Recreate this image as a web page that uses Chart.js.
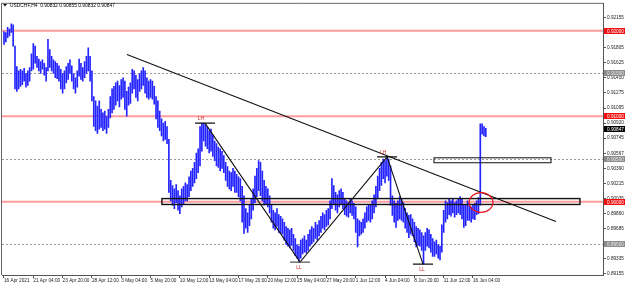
<!DOCTYPE html>
<html>
<head>
<meta charset="utf-8">
<script src="https://cdn.jsdelivr.net/npm/chart.js@4/dist/chart.umd.min.js"></script>
<style>
  html, body { margin: 0; padding: 0; background: #fff; }
</style>
</head>
<body>
<canvas id="chart" width="625" height="285"></canvas>
<script>
// USDCHF H4, one value pair per bar (16 Apr 2021 12:00 .. 17 Jun 2021 08:00)
const symbolTitle = "USDCHF,H4  0.90832 0.90855 0.90832 0.90847"

const timeLabels = ["16 Apr 2021", "21 Apr 04:00", "23 Apr 20:00", "28 Apr 12:00", "3 May 04:00",
  "5 May 20:00", "10 May 12:00", "13 May 04:00", "17 May 20:00", "20 May 12:00", "25 May 04:00",
  "27 May 20:00", "1 Jun 12:00", "4 Jun 04:00", "8 Jun 20:00", "11 Jun 12:00", "16 Jun 04:00"]
const barsPerLabel = 16

const highs = [
  0.9199, 0.9198, 0.9204, 0.9202, 0.9208, 0.9207, 0.9182, 0.9158, 0.9153, 0.9155,
  0.9153, 0.9156, 0.9150, 0.9153, 0.9157, 0.9173, 0.9185, 0.9182, 0.9170, 0.9167,
  0.9164, 0.9166, 0.9162, 0.9157, 0.9190, 0.9178, 0.9170, 0.9166, 0.9164, 0.9162,
  0.9159, 0.9155, 0.9150, 0.9153, 0.9158, 0.9162, 0.9166, 0.9159, 0.9150, 0.9145,
  0.9153, 0.9167, 0.9162, 0.9157, 0.9164, 0.9170, 0.9180, 0.9170, 0.9153, 0.9123,
  0.9118, 0.9112, 0.9118, 0.9108, 0.9104, 0.9106, 0.9100, 0.9108, 0.9123, 0.9132,
  0.9135, 0.9139, 0.9141, 0.9136, 0.9143, 0.9145, 0.9141, 0.9129, 0.9134, 0.9139,
  0.9155, 0.9153, 0.9148, 0.9143, 0.9150, 0.9153, 0.9157, 0.9153, 0.9145, 0.9141,
  0.9143, 0.9141, 0.9135, 0.9123, 0.9118, 0.9106, 0.9097, 0.9092, 0.9094, 0.9088,
  0.9073, 0.9025, 0.9019, 0.9015, 0.9020, 0.9013, 0.9007, 0.9015, 0.9018, 0.9022,
  0.9020, 0.9029, 0.9036, 0.9039, 0.9046, 0.9057, 0.9062, 0.9088, 0.9092, 0.9092,
  0.9090, 0.9087, 0.9083, 0.9085, 0.9078, 0.9071, 0.9068, 0.9064, 0.9062, 0.9059,
  0.9054, 0.9046, 0.9041, 0.9036, 0.9034, 0.9039, 0.9036, 0.9032, 0.9029, 0.9027,
  0.9018, 0.9007, 0.8992, 0.8987, 0.8996, 0.9004, 0.9015, 0.9030, 0.9039, 0.9048,
  0.9046, 0.9036, 0.9025, 0.9018, 0.9015, 0.9007, 0.8996, 0.8990, 0.8987, 0.8992,
  0.8985, 0.8983, 0.8980, 0.8976, 0.8971, 0.8969, 0.8967, 0.8969, 0.8962, 0.8957,
  0.8950, 0.8948, 0.8955, 0.8957, 0.8960, 0.8955, 0.8962, 0.8967, 0.8971, 0.8969,
  0.8976, 0.8973, 0.8978, 0.8983, 0.8987, 0.8985, 0.8990, 0.8992, 0.9001, 0.9027,
  0.9019, 0.9011, 0.9008, 0.9013, 0.9015, 0.9011, 0.9004, 0.9001, 0.8999, 0.9004,
  0.9001, 0.8998, 0.8994, 0.8980, 0.8978, 0.8976, 0.8980, 0.8987, 0.8994, 0.8997,
  0.8996, 0.9001, 0.9008, 0.9018, 0.9030, 0.9039, 0.9046, 0.9050, 0.9048, 0.9053,
  0.9050, 0.9042, 0.9007, 0.9001, 0.8998, 0.9001, 0.9006, 0.9004, 0.8999, 0.8992,
  0.8987, 0.8984, 0.8985, 0.8980, 0.8976, 0.8971, 0.8969, 0.8967, 0.8964, 0.8960,
  0.8964, 0.8969, 0.8967, 0.8962, 0.8957, 0.8953, 0.8955, 0.8950, 0.8948, 0.8973,
  0.8990, 0.9001, 0.8999, 0.9004, 0.9001, 0.9004, 0.8999, 0.9001, 0.9004, 0.9006,
  0.9004, 0.8996, 0.8997, 0.9001, 0.8998, 0.8994, 0.8997, 0.8998, 0.9001, 0.9005,
  0.9091, 0.9091, 0.9088, 0.9086
]

const lows = [
  0.9184, 0.9187, 0.9192, 0.9194, 0.9198, 0.9182, 0.9132, 0.9129, 0.9132, 0.9135,
  0.9137, 0.9141, 0.9134, 0.9136, 0.9141, 0.9153, 0.9155, 0.9162, 0.9157, 0.9153,
  0.9150, 0.9155, 0.9148, 0.9141, 0.9153, 0.9157, 0.9153, 0.9150, 0.9145, 0.9144,
  0.9141, 0.9132, 0.9127, 0.9132, 0.9139, 0.9143, 0.9150, 0.9141, 0.9132, 0.9127,
  0.9134, 0.9147, 0.9143, 0.9141, 0.9145, 0.9150, 0.9153, 0.9141, 0.9118, 0.9088,
  0.9083, 0.9080, 0.9085, 0.9087, 0.9083, 0.9085, 0.9080, 0.9087, 0.9098, 0.9104,
  0.9108, 0.9113, 0.9118, 0.9111, 0.9120, 0.9122, 0.9108, 0.9100, 0.9113, 0.9115,
  0.9127, 0.9132, 0.9122, 0.9118, 0.9129, 0.9132, 0.9136, 0.9127, 0.9122, 0.9120,
  0.9122, 0.9120, 0.9114, 0.9097, 0.9087, 0.9083, 0.9077, 0.9071, 0.9073, 0.9068,
  0.9011, 0.9001, 0.8996, 0.8992, 0.8999, 0.8990, 0.8986, 0.8994, 0.8997, 0.9001,
  0.9001, 0.9006, 0.9013, 0.9018, 0.9022, 0.9027, 0.9034, 0.9042, 0.9059, 0.9071,
  0.9065, 0.9062, 0.9057, 0.9059, 0.9053, 0.9048, 0.9042, 0.9040, 0.9036, 0.9039,
  0.9034, 0.9025, 0.9018, 0.9015, 0.9013, 0.9018, 0.9011, 0.9011, 0.9006, 0.9001,
  0.8976, 0.8963, 0.8969, 0.8964, 0.8972, 0.8980, 0.8990, 0.8999, 0.9006, 0.9013,
  0.9007, 0.9001, 0.8996, 0.8997, 0.8994, 0.8987, 0.8976, 0.8969, 0.8967, 0.8971,
  0.8964, 0.8963, 0.8962, 0.8955, 0.8950, 0.8948, 0.8946, 0.8949, 0.8943, 0.8937,
  0.8934, 0.8929, 0.8934, 0.8939, 0.8941, 0.8940, 0.8943, 0.8948, 0.8951, 0.8953,
  0.8957, 0.8955, 0.8960, 0.8964, 0.8969, 0.8967, 0.8971, 0.8973, 0.8980, 0.8992,
  0.8997, 0.8990, 0.8987, 0.8994, 0.8997, 0.8992, 0.8985, 0.8983, 0.8982, 0.8987,
  0.8984, 0.8980, 0.8964, 0.8947, 0.8960, 0.8962, 0.8964, 0.8969, 0.8976, 0.8978,
  0.8976, 0.8980, 0.8987, 0.8994, 0.9004, 0.9013, 0.9019, 0.9027, 0.9022, 0.9030,
  0.9025, 0.8996, 0.8984, 0.8976, 0.8970, 0.8978, 0.8980, 0.8978, 0.8976, 0.8969,
  0.8964, 0.8958, 0.8962, 0.8960, 0.8953, 0.8947, 0.8949, 0.8948, 0.8943, 0.8927,
  0.8943, 0.8948, 0.8946, 0.8941, 0.8936, 0.8936, 0.8939, 0.8934, 0.8932, 0.8941,
  0.8964, 0.8976, 0.8980, 0.8985, 0.8983, 0.8987, 0.8982, 0.8985, 0.8987, 0.8985,
  0.8980, 0.8970, 0.8972, 0.8978, 0.8978, 0.8976, 0.8980, 0.8979, 0.8985, 0.8986,
  0.8996, 0.9079, 0.9077, 0.9076
]

const priceTicks = [0.92155, 0.91980, 0.91805, 0.91625, 0.91450, 0.91275, 0.91095, 0.90920, 0.90745,
  0.90567, 0.90390, 0.90215, 0.90035, 0.89860, 0.89685, 0.89510, 0.89335, 0.89155]

// drawn objects, in bar index / price
const redLevels = [0.92000, 0.91000, 0.90000]
const dottedLevels = [0.91500, 0.90500, 0.89500]
const lastPrice = 0.90847
const trendLine = [[67.1, 0.91722], [301.3, 0.89770]]
const swingPoints = [[109.7, 0.90920], [161.6, 0.89294], [209.1, 0.90525], [228.7, 0.89270]]
const swingNames = ["LH", "LL", "LH", "LL"]
const zones = [
  { from: 86.2, to: 314.4, top: 0.90037, bottom: 0.89968 },
  { from: 234.7, to: 298.6, top: 0.90514, bottom: 0.90456 }
]
const circle = { at: 260.4, price: 0.89991, halfBars: 6.5, halfPrice: 0.00116 }

const FONT = "Liberation Sans, Arial, sans-serif"

const overlay = {
  id: "overlay",
  beforeDatasetsDraw(chart) {
    const { ctx, chartArea: a, scales: { y } } = chart
    ctx.save()
    ctx.setLineDash([2, 2])
    ctx.strokeStyle = "#9a9a9a"
    ctx.lineWidth = 1
    dottedLevels.forEach(p => {
      const py = Math.round(y.getPixelForValue(p)) + 0.5
      ctx.beginPath(); ctx.moveTo(a.left, py); ctx.lineTo(a.right, py); ctx.stroke()
    })
    ctx.setLineDash([])
    ctx.strokeStyle = "rgba(255, 90, 90, 0.6)"
    ctx.lineWidth = 2
    redLevels.forEach(p => {
      const py = y.getPixelForValue(p)
      ctx.beginPath(); ctx.moveTo(a.left, py); ctx.lineTo(a.right, py); ctx.stroke()
    })
    ctx.restore()
  },
  afterDatasetsDraw(chart) {
    const { ctx, chartArea: a, scales: { x, y } } = chart
    ctx.save()
    ctx.beginPath(); ctx.rect(a.left, a.top, a.right - a.left, a.bottom - a.top); ctx.clip()

    // zones
    ctx.strokeStyle = "#111"
    zones.forEach((z, k) => {
      ctx.lineWidth = k === 0 ? 1.4 : 1
      const x0 = x.getPixelForValue(z.from), x1 = x.getPixelForValue(z.to)
      const y0 = y.getPixelForValue(z.top), y1 = y.getPixelForValue(z.bottom)
      ctx.strokeRect(x0, y0, x1 - x0, y1 - y0)
    })

    // long trend line
    ctx.lineWidth = 1.1
    ctx.beginPath()
    ctx.moveTo(x.getPixelForValue(trendLine[0][0]), y.getPixelForValue(trendLine[0][1]))
    ctx.lineTo(x.getPixelForValue(trendLine[1][0]), y.getPixelForValue(trendLine[1][1]))
    ctx.stroke()

    // zigzag through swings
    ctx.beginPath()
    swingPoints.forEach(([i, p], k) => {
      const px = x.getPixelForValue(i), py = y.getPixelForValue(p)
      if (k === 0) ctx.moveTo(px, py); else ctx.lineTo(px, py)
    })
    ctx.stroke()

    // swing markers and names
    ctx.font = "5px " + FONT
    ctx.textAlign = "center"
    swingPoints.forEach(([i, p], k) => {
      const px = x.getPixelForValue(i), py = y.getPixelForValue(p)
      ctx.strokeStyle = k === 1 ? "#555" : "#111"
      ctx.lineWidth = 1.2
      ctx.beginPath(); ctx.moveTo(px - 10, py); ctx.lineTo(px + 10, py); ctx.stroke()
      ctx.fillStyle = "#e0202a"
      if (swingNames[k] === "LH") {
        ctx.textBaseline = "bottom"
        ctx.fillText(swingNames[k], px - 4, py - 1.5)
      } else {
        ctx.textBaseline = "top"
        ctx.fillText(swingNames[k], px - 1, py + 3)
      }
    })

    // circle round the breakout
    ctx.strokeStyle = "#e8141e"
    ctx.lineWidth = 1.2
    const cx = x.getPixelForValue(circle.at), cy = y.getPixelForValue(circle.price)
    const rx = x.getPixelForValue(circle.at + circle.halfBars) - cx
    const ry = cy - y.getPixelForValue(circle.price + circle.halfPrice)
    ctx.beginPath(); ctx.ellipse(cx, cy, rx, ry, 0, 0, Math.PI * 2); ctx.stroke()
    ctx.restore()
  },
  afterDraw(chart) {
    const { ctx, chartArea: a, scales: { y } } = chart
    ctx.save()
    // frame top and left
    ctx.strokeStyle = "#666"
    ctx.lineWidth = 1
    ctx.beginPath()
    ctx.moveTo(a.left - 0.5, a.bottom); ctx.lineTo(a.left - 0.5, a.top - 0.5); ctx.lineTo(a.right, a.top - 0.5)
    ctx.stroke()

    // price boxes on the axis
    ctx.font = "4.7px " + FONT
    ctx.textBaseline = "middle"
    ctx.textAlign = "left"
    const box = (p, bg, fg) => {
      const py = Math.round(y.getPixelForValue(p))
      ctx.fillStyle = bg
      ctx.fillRect(a.right + 1, py - 3, 21, 6)
      ctx.fillStyle = fg
      ctx.fillText(p.toFixed(5), a.right + 4, py + 0.3)
    }
    dottedLevels.forEach(p => box(p, "#8c8c8c", "#e8e8e8"))
    redLevels.forEach(p => box(p, "#f01010", "#fff"))
    box(lastPrice, "#000", "#fff")

    // title
    ctx.fillStyle = "#000"
    ctx.beginPath(); ctx.moveTo(3, 4); ctx.lineTo(7, 4); ctx.lineTo(5, 6.5); ctx.closePath(); ctx.fill()
    ctx.font = "4.9px " + FONT
    ctx.fillText(symbolTitle, 10, 5.5)
    ctx.restore()
  }
}

new Chart(document.getElementById("chart").getContext("2d"), {
  type: "bar",
  data: {
    datasets: [{
      data: highs.map((h, i) => ({ x: i, y: [lows[i], h] })),
      backgroundColor: "#2424ff",
      barThickness: 1,
      grouped: false
    }]
  },
  options: {
    responsive: false,
    animation: false,
    layout: { padding: { left: 2, top: 2, right: 0, bottom: 0 } },
    plugins: { legend: { display: false }, tooltip: { enabled: false } },
    scales: {
      x: {
        type: "linear",
        min: -1.09,
        max: 326.97,
        offset: false,
        grid: { drawOnChartArea: false, offset: false, tickLength: 3, color: "#555" },
        border: { color: "#555" },
        ticks: {
          autoSkip: false, maxRotation: 0, align: "start", padding: 0, color: "#222",
          font: { family: FONT, size: 4.7 },
          callback: v => timeLabels[Math.round(v / barsPerLabel)]
        },
        afterBuildTicks: s => { s.ticks = timeLabels.map((t, k) => ({ value: k * barsPerLabel })) },
        afterFit: s => { s.height = 10 }
      },
      y: {
        position: "right",
        min: 0.89143,
        max: 0.92315,
        grid: { drawOnChartArea: false, tickLength: 3, color: "#555" },
        border: { color: "#555" },
        ticks: {
          autoSkip: false, padding: 1, color: "#222",
          font: { family: FONT, size: 4.7 },
          callback: v => v.toFixed(5)
        },
        afterBuildTicks: s => { s.ticks = priceTicks.map(v => ({ value: v })) },
        afterFit: s => { s.width = 22 }
      }
    }
  },
  plugins: [overlay]
})
</script>
</body>
</html>
